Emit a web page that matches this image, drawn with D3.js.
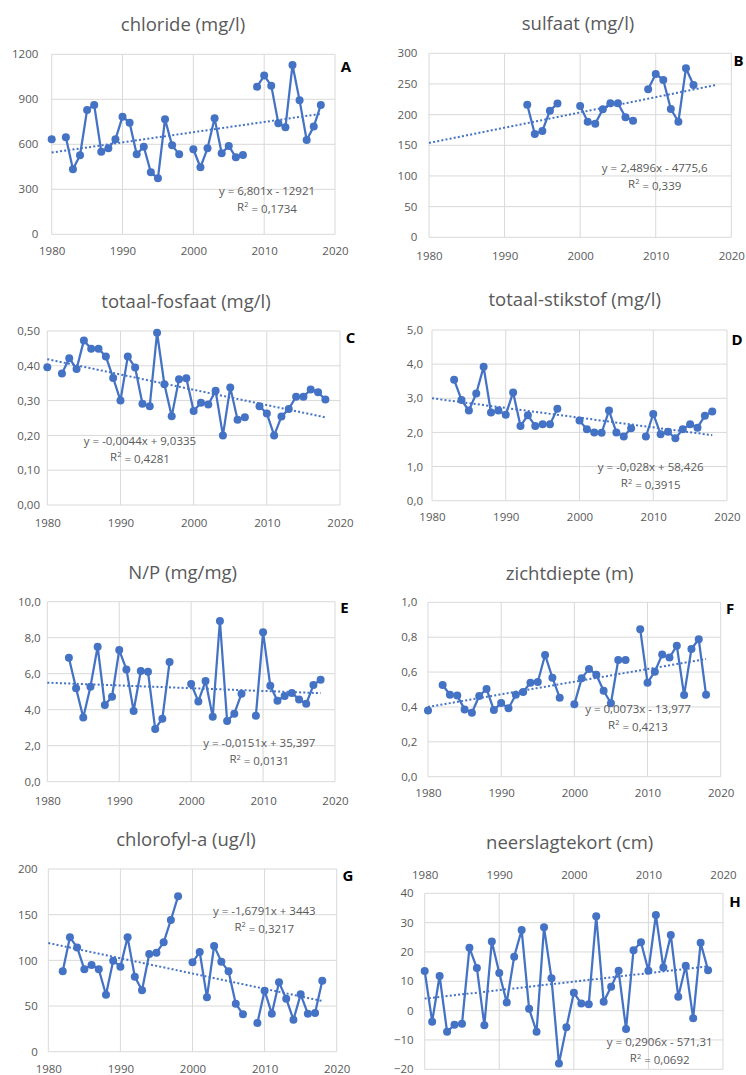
<!DOCTYPE html>
<html>
<head>
<meta charset="utf-8">
<script src="https://cdn.jsdelivr.net/npm/d3@7"></script>
<style>
  html, body { margin: 0; padding: 0; background: #ffffff; }
  svg { display: block; }
</style>
</head>
<body>
<svg id="chart" width="746" height="1075"></svg>
<script>
// ---------------- DATA ----------------
const years = [1980,1981,1982,1983,1984,1985,1986,1987,1988,1989,
               1990,1991,1992,1993,1994,1995,1996,1997,1998,1999,
               2000,2001,2002,2003,2004,2005,2006,2007,2008,2009,
               2010,2011,2012,2013,2014,2015,2016,2017,2018];

const chloride = [633,null,647,433,527,829,862,551,573,633,
                  784,744,533,584,413,373,767,593,533,null,
                  567,447,573,773,540,589,513,529,null,984,
                  1058,991,740,713,1129,893,629,718,862];

const sulfaat = [null,null,null,null,null,null,null,null,null,null,
                 null,null,null,216,168.5,173.4,206.5,218,null,null,
                 214,188.6,185.3,208.7,218.5,218.5,195.7,190.2,null,241.3,
                 266.3,256.5,209.2,188.6,275.6,248.4,null,null,null];

const fosfaat = [0.396,null,0.378,0.422,0.391,0.473,0.449,0.449,0.427,0.365,
                 0.300,0.427,0.395,0.291,0.284,0.495,0.347,0.255,0.361,0.364,
                 0.270,0.294,0.289,0.328,0.200,0.338,0.245,0.252,null,0.284,
                 0.263,0.200,0.254,0.276,0.311,0.311,0.332,0.324,0.303];

const stikstof = [null,null,null,3.54,2.95,2.64,3.14,3.92,2.58,2.64,
                  2.52,3.17,2.19,2.50,2.19,2.24,2.24,2.69,null,null,
                  2.35,2.09,2.00,1.99,2.64,2.00,1.88,2.12,null,1.88,
                  2.54,1.95,2.02,1.83,2.09,2.24,2.14,2.49,2.61];

const np = [null,null,null,6.89,5.19,3.57,5.28,7.50,4.26,4.72,
            7.31,6.24,3.93,6.15,6.11,2.93,3.50,6.65,null,null,
            5.43,4.46,5.59,3.61,8.93,3.37,3.78,4.89,null,3.67,
            8.30,5.33,4.50,4.76,4.93,4.57,4.33,5.37,5.67];

const zichtdiepte = [0.379,null,0.526,0.470,0.465,0.386,0.367,0.463,0.503,0.382,
                     0.423,0.392,0.470,0.486,0.539,0.543,0.698,0.568,0.453,null,
                     0.415,0.564,0.618,0.585,0.493,0.421,0.669,0.669,null,0.845,
                     0.539,0.602,0.700,0.683,0.751,0.468,0.732,0.788,0.470];

const chlorofyl = [null,null,88.0,125.2,114.2,90.2,94.9,90.2,62.4,99.6,
                   93.1,125.2,82.1,67.2,106.9,108.4,119.7,144.2,170.1,null,
                   97.8,109.1,59.5,115.7,98.6,88.0,52.6,40.9,null,31.4,
                   66.8,41.6,75.9,58.0,35.0,62.8,41.6,42.3,77.7];

const neerslagtekort = [13.5,-3.75,11.8,-7.2,-4.8,-4.5,21.4,14.5,-5.0,23.6,
                        12.8,2.8,18.4,27.5,0.6,-7.2,28.4,11.0,-18.0,-5.7,
                        6.1,2.4,2.2,32.2,3.0,8.1,13.6,-6.25,20.6,23.3,
                        13.6,32.6,14.7,25.8,4.7,15.3,-2.6,23.1,13.75];

// trendline end values (at 1980 and 2018), as drawn
const trendYears = [1980, 2018];
const trendChloride = [545, 803];
const trendSulfaat = [153.8, 248.4];
const trendFosfaat = [0.419, 0.252];
const trendStikstof = [3.00, 1.92];
const trendNP = [5.50, 4.92];
const trendZicht = [0.40, 0.675];
const trendChlorofyl = [119.0, 55.5];
const trendNeerslag = [4.1, 15.1];

const titles = ["chloride (mg/l)", "sulfaat (mg/l)", "totaal-fosfaat (mg/l)", "totaal-stikstof (mg/l)",
                "N/P (mg/mg)", "zichtdiepte (m)", "chlorofyl-a (ug/l)", "neerslagtekort (cm)"];
const letters = ["A","B","C","D","E","F","G","H"];
const equations = ["y = 6,801x - 12921", "y = 2,4896x - 4775,6", "y = -0,0044x + 9,0335", "y = -0,028x + 58,426",
                   "y = -0,0151x + 35,397", "y = 0,0073x - 13,977", "y = -1,6791x + 3443", "y = 0,2906x - 571,31"];
const rSquared = ["0,1734", "0,339", "0,4281", "0,3915", "0,0131", "0,4213", "0,3217", "0,0692"];

const xTicks = [1980, 1990, 2000, 2010, 2020];
const yTicksA = [0, 300, 600, 900, 1200];
const yTicksB = [0, 50, 100, 150, 200, 250, 300];
const yTicksC = [0, 0.1, 0.2, 0.3, 0.4, 0.5];
const yTicksD = [0, 1, 2, 3, 4, 5];
const yTicksE = [0, 2, 4, 6, 8, 10];
const yTicksF = [0, 0.2, 0.4, 0.6, 0.8, 1.0];
const yTicksG = [0, 50, 100, 150, 200];
const yTicksH = [-20, -10, 0, 10, 20, 30, 40];

// ---------------- LAYOUT ----------------
const nl = d3.formatLocale({decimal: ",", thousands: ".", grouping: [3], currency: ["", ""]});
const fmt0 = nl.format("d"), fmt1 = nl.format(".1f"), fmt2 = nl.format(".2f");

const panels = [
  {series: chloride, trend: trendChloride, ticks: yTicksA, fmt: fmt0,
   L: 51.7, R: 335, T: 54.3, B: 234.3, xlY: 250.7, ylX: 38.3, title: [183, 25], eq: [267, 190.7], let: [346, 66.7]},
  {series: sulfaat, trend: trendSulfaat, ticks: yTicksB, fmt: fmt0,
   L: 429, R: 731.3, T: 53.3, B: 237.3, xlY: 256, ylX: 417.3, title: [578, 23.3], eq: [654.7, 167.7], let: [738.5, 61]},
  {series: fosfaat, trend: trendFosfaat, ticks: yTicksC, fmt: fmt2,
   L: 47.3, R: 340, T: 331, B: 505, xlY: 523.3, ylX: 40, title: [186, 301.7], eq: [140, 440.7], let: [350.5, 338]},
  {series: stikstof, trend: trendStikstof, ticks: yTicksD, fmt: fmt1,
   L: 432, R: 727, T: 330, B: 500.7, xlY: 517.3, ylX: 423, title: [574.7, 300], eq: [650.7, 467.3], let: [737, 340]},
  {series: np, trend: trendNP, ticks: yTicksE, fmt: fmt1,
   L: 47.3, R: 335, T: 601.7, B: 781.7, xlY: 801, ylX: 40.7, title: [182.7, 572.3], eq: [259.3, 743.3], let: [344.5, 607.3]},
  {series: zichtdiepte, trend: trendZicht, ticks: yTicksF, fmt: fmt1,
   L: 428, R: 720.7, T: 602.3, B: 776.7, xlY: 793.3, ylX: 417.3, title: [569.7, 573.3], eq: [638, 709], let: [730, 608.3]},
  {series: chlorofyl, trend: trendChlorofyl, ticks: yTicksG, fmt: fmt0,
   L: 48.3, R: 336.7, T: 869, B: 1051.7, xlY: 1069.3, ylX: 37.7, title: [186, 839.3], eq: [264.3, 911], let: [348, 876]},
  {series: neerslagtekort, trend: trendNeerslag, ticks: yTicksH, fmt: fmt0,
   L: 424.7, R: 723, T: 893.3, B: 1069.3, xlY: 875, ylX: 413.7, title: [569.7, 842.7], eq: [659.7, 1042.3], let: [735, 901.7]}
];

const svg = d3.select("#chart");
const FONT = "'Open Sans', 'Noto Sans', sans-serif";
const BLUE = "#4472C4", GRID = "#d9d9d9", TXT = "#595959";

panels.forEach((p, i) => {
  const g = svg.append("g");
  const x = d3.scaleLinear().domain([1980, 2020]).range([p.L, p.R]);
  const y = d3.scaleLinear().domain([p.ticks[0], p.ticks[p.ticks.length - 1]]).range([p.B, p.T]);

  // gridlines
  g.selectAll(".hg").data(p.ticks).join("line")
    .attr("x1", p.L).attr("x2", p.R).attr("y1", d => y(d)).attr("y2", d => y(d))
    .attr("stroke", GRID).attr("stroke-width", 1);
  g.selectAll(".vg").data(xTicks).join("line")
    .attr("x1", d => x(d)).attr("x2", d => x(d)).attr("y1", p.T).attr("y2", p.B)
    .attr("stroke", GRID).attr("stroke-width", 1);

  // y axis labels
  const ya = d3.axisLeft(y).tickValues(p.ticks).tickFormat(p.fmt).tickSize(0).tickPadding(p.L - p.ylX);
  const yg = g.append("g").attr("transform", `translate(${p.L},0)`).call(ya);
  yg.select(".domain").remove();
  yg.selectAll("text").attr("fill", TXT).attr("font-family", FONT).attr("font-size", 11.5);

  // x axis labels
  const xa = d3.axisBottom(x).tickValues(xTicks).tickFormat(d3.format("d")).tickSize(0).tickPadding(0);
  const xg = g.append("g").attr("transform", `translate(0,${p.xlY})`).call(xa);
  xg.select(".domain").remove();
  xg.selectAll("text").attr("dy", "0.35em").attr("y", 0)
    .attr("fill", TXT).attr("font-family", FONT).attr("font-size", 11.5);

  // trendline
  g.append("line")
    .attr("x1", x(trendYears[0])).attr("y1", y(p.trend[0]))
    .attr("x2", x(trendYears[1])).attr("y2", y(p.trend[1]))
    .attr("stroke", BLUE).attr("stroke-width", 2).attr("stroke-dasharray", "2,2.2");

  // data line
  const pts = years.map((yr, k) => ({yr, v: p.series[k]}));
  const line = d3.line().defined(d => d.v !== null).x(d => x(d.yr)).y(d => y(d.v));
  g.append("path").datum(pts).attr("d", line)
    .attr("fill", "none").attr("stroke", BLUE).attr("stroke-width", 2.25).attr("stroke-linejoin", "round");
  g.selectAll(".pt").data(pts.filter(d => d.v !== null)).join("circle")
    .attr("cx", d => x(d.yr)).attr("cy", d => y(d.v)).attr("r", 4).attr("fill", BLUE);

  // title
  g.append("text").attr("x", p.title[0]).attr("y", p.title[1]).attr("dy", "0.35em")
    .attr("text-anchor", "middle").attr("fill", TXT).attr("font-family", FONT).attr("font-size", 18.5)
    .text(titles[i]);

  // equation
  g.append("text").attr("x", p.eq[0]).attr("y", p.eq[1]).attr("dy", "0.35em")
    .attr("text-anchor", "middle").attr("fill", TXT).attr("font-family", FONT).attr("font-size", 11.5)
    .text(equations[i]);
  const r = g.append("text").attr("x", p.eq[0]).attr("y", p.eq[1] + 16).attr("dy", "0.35em")
    .attr("text-anchor", "middle").attr("fill", TXT).attr("font-family", FONT).attr("font-size", 11.5);
  r.append("tspan").text("R");
  r.append("tspan").attr("font-size", 7.5).attr("dy", "-0.5em").text("2");
  r.append("tspan").attr("dy", "0.5em").text(" = " + rSquared[i]);

  // panel letter
  g.append("text").attr("x", p.let[0]).attr("y", p.let[1]).attr("dy", "0.35em")
    .attr("text-anchor", "middle").attr("fill", "#000").attr("font-family", FONT)
    .attr("font-weight", "bold").attr("font-size", 15).text(letters[i]);
});
</script>
</body>
</html>
